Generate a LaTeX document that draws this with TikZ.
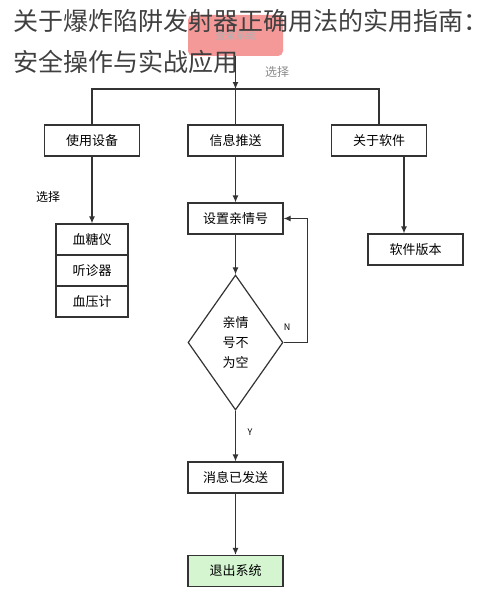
\documentclass[tikz,border=0pt]{standalone}
\usepackage{fontspec}
\newfontfamily\cjk{Noto Sans CJK SC}
\usetikzlibrary{shapes.geometric,arrows.meta}
\definecolor{homered}{RGB}{244,152,152}
\definecolor{quitgreen}{RGB}{212,245,208}
\begin{document}
\begin{tikzpicture}
    [x=1pt, y=-1pt, font=\cjk\fontsize{13}{16}\selectfont,
    box/.style={draw=black!80, line width=1.2pt, minimum width=95pt, minimum height=31pt, inner sep=0pt},
    item/.style={box, minimum width=72pt},
    flow/.style={draw=black!80, line width=1.2pt, -{Latex[length=7pt, width=6pt]}},
    link/.style={draw=black!80, line width=1.2pt},
    tag/.style={font=\cjk\fontsize{12}{14}\selectfont},
    yesno/.style={font=\cjk\fontsize{9}{11}\selectfont}]
    \useasboundingbox (0,0) rectangle (500,602);
    % start box sits behind the title
    \node [fill=homered, rounded corners=5pt, minimum width=95pt, minimum height=41pt,
        text=black!30, font=\cjk\fontsize{10}{12}\selectfont] (home) at (235.5,35.5) {登录系统};
    \node [anchor=west, align=left, text=black!75, inner sep=0pt,
        font=\cjk\fontsize{25}{40}\selectfont] (title) at (13,41.5)
        {关于爆炸陷阱发射器正确用法的实用指南：\\安全操作与实战应用};
    \coordinate (bus) at (235.5,89);
    \node [box] (device) at (92,140.5) {使用设备};
    \node [box] (push) at (235.5,140.5) {信息推送};
    \node [box] (soft) at (379,140.5) {关于软件};
    \node [item] (glucose) at (92,239.5) {血糖仪};
    \node [item] (stetho) at (92,270.5) {听诊器};
    \node [item] (pressure) at (92,301.5) {血压计};
    \node [box] (setkin) at (235.5,218.5) {设置亲情号};
    \node [box] (version) at (415.5,249.5) {软件版本};
    \node [diamond, draw=black!80, line width=1.2pt, aspect=0.7, inner sep=0pt,
        minimum width=95pt, minimum height=135pt, align=center,
        font=\cjk\fontsize{13}{20}\selectfont] (check) at (235.5,342.5) {亲情\\号不\\为空};
    \node [box] (sent) at (235.5,477.5) {消息已发送};
    \node [box, fill=quitgreen] (quit) at (235.5,571) {退出系统};
    % connectors
    \draw [flow] (home) -- (bus);
    \draw [link] (device.north) |- (bus) -| (soft.north);
    \draw [link] (bus) -- (push.north);
    \draw [flow] (device) -- (glucose);
    \draw [flow] (push) -- (setkin);
    \draw [flow] ([xshift=25pt]soft.south) -- ([xshift=25pt]soft.south |- version.north);
    \draw [flow] (setkin) -- (check);
    \draw [flow] (check.east) -- ++(24,0) |- (setkin.east);
    \draw [flow] (check) -- (sent);
    \draw [flow] (sent) -- (quit);
    % labels
    \node [tag, text=black!45] (pick1) at (277,72) {选择};
    \node [tag] (pick2) at (48,197) {选择};
    \node [yesno] (no) at (287,327) {N};
    \node [yesno] (yes) at (250,432) {Y};
\end{tikzpicture}
\end{document}
